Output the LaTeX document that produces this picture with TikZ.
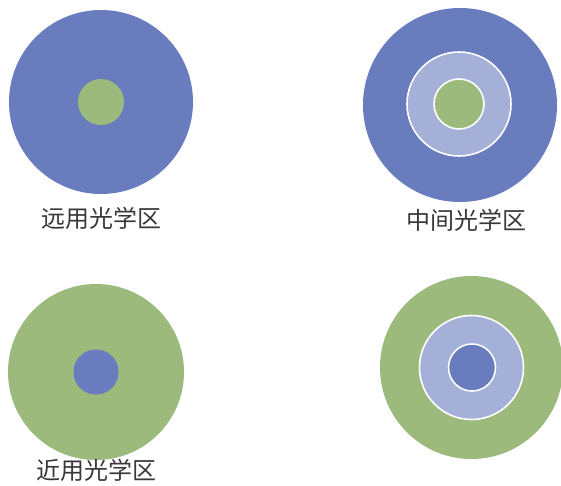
\documentclass[tikz,border=0pt]{standalone}
\usepackage{fontspec}
\newfontfamily\cjk{Noto Sans CJK SC}[FakeBold=0]
\definecolor{zblue}{RGB}{104,124,190}
\definecolor{zgreen}{RGB}{155,186,124}
\definecolor{zlight}{RGB}{164,176,216}
\begin{document}
\begin{tikzpicture}[x=1pt,y=-1pt,
  disc/.style={circle,inner sep=0pt,draw=none},
  ringed/.style={circle,inner sep=0pt,draw=white,line width=1.6pt},
  lbl/.style={font=\cjk\fontsize{24}{24}\selectfont,text=black!78,inner sep=0pt}]
\useasboundingbox[fill=white] (0,0) rectangle (561,485);
% top left: far zone
\node[disc,fill=zblue,minimum size=184pt] (tlout) at (101,102) {};
\node[disc,fill=zgreen,minimum size=46pt] (tlin) at (101,102) {};
\node[lbl] (tllab) at (101,218) {远用光学区};
% top right: intermediate zone
\node[disc,fill=zblue,minimum size=194pt] (trout) at (460,105) {};
\node[ringed,fill=zlight,minimum size=104pt] (trmid) at (459,104) {};
\node[ringed,fill=zgreen,minimum size=50pt] (trin) at (459,104) {};
\node[lbl] (trlab) at (466,220) {中间光学区};
% bottom left: near zone
\node[disc,fill=zgreen,minimum size=176pt] (blout) at (96,372) {};
\node[disc,fill=zblue,minimum size=45pt] (blin) at (96,372) {};
\node[lbl] (bllab) at (96,470) {近用光学区};
% bottom right
\node[disc,fill=zgreen,minimum size=183pt] (brout) at (471.5,367.5) {};
\node[ringed,fill=zlight,minimum size=104pt] (brmid) at (471.5,367.5) {};
\node[ringed,fill=zblue,minimum size=47pt] (brin) at (472,367.5) {};
\end{tikzpicture}
\end{document}
